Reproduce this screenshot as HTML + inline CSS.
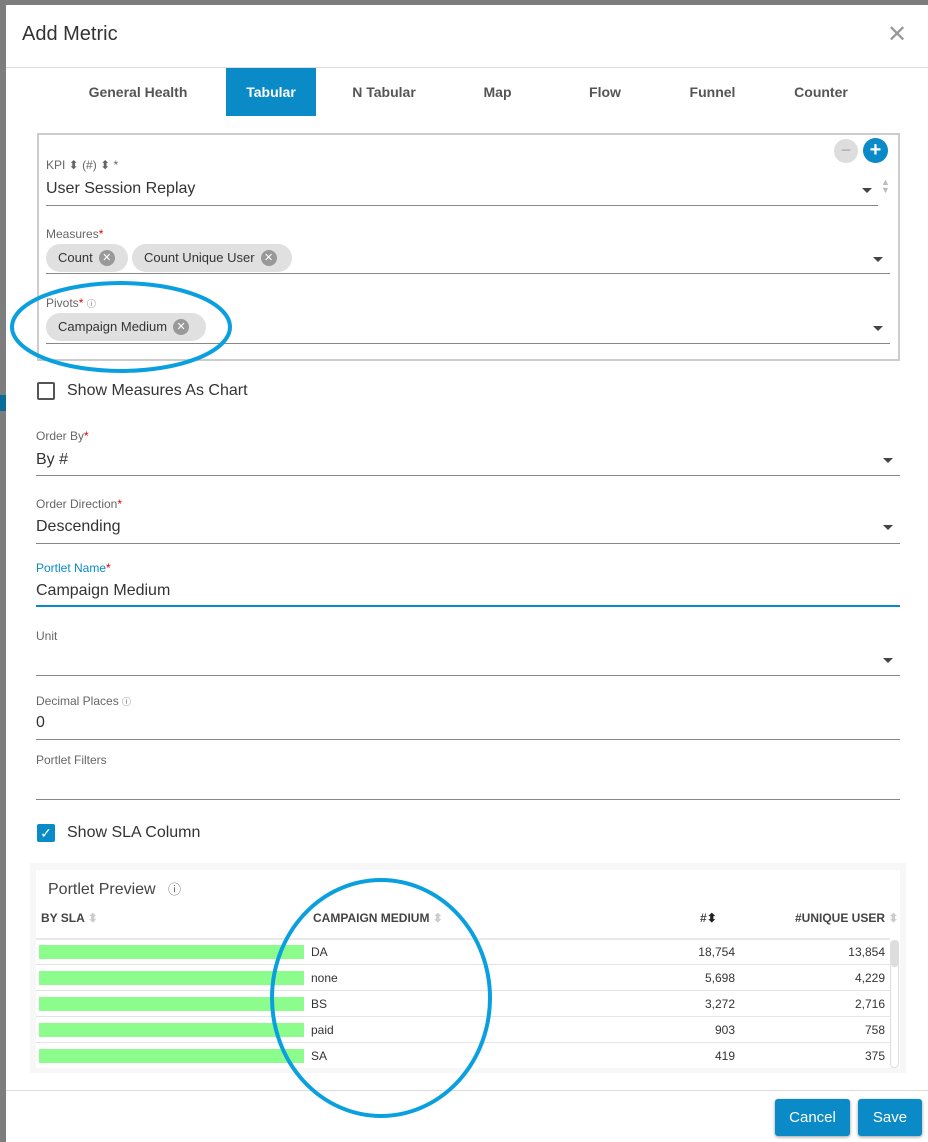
<!DOCTYPE html>
<html><head><style>
*{box-sizing:border-box;margin:0;padding:0}
body{width:928px;height:1142px;background:#7d7d7d;font-family:"Liberation Sans",sans-serif;position:relative;overflow:hidden;color:#333}
.a{position:absolute}
#m{left:6px;top:5px;width:922px;height:1137px;background:#fff}
.lbl{font-size:12px;color:#666}
.val{font-size:16px;color:#333}
.line{height:1px;background:#888}
.tab{font-size:14px;font-weight:bold;color:#555;text-align:center;top:84px}
.chip{background:#e0e0e0;border-radius:14px;height:28px;font-size:13px;color:#333;padding:6px 0 0 12px}
.x{display:inline-block;width:16px;height:16px;border-radius:50%;background:#999;color:#fff;font-size:11px;text-align:center;line-height:16px;margin-left:6px;vertical-align:top}
.caret{width:0;height:0;border-left:5px solid transparent;border-right:5px solid transparent;border-top:5px solid #444}
.row{left:36px;width:854px;height:1px;background:#e4e4e4}
.bar{left:39px;width:265px;height:14px;background:#8cfc8c}
.c{font-size:12px;color:#333}
.n{font-size:12px;color:#333;text-align:right}
.btn{background:#0a8ac6;color:#fff;font-size:15px;text-align:center;border-radius:3px;height:37px;line-height:37px;top:1099px;box-shadow:0 1px 3px rgba(0,0,0,.4)}
</style></head><body>
<div class="a" style="left:0;top:395px;width:6px;height:16px;background:#0a6c9a"></div>
<div class="a" id="m"></div>
<div class="a" style="left:22px;top:23px;font-size:20px;color:#333">Add Metric</div>
<div class="a" style="left:887px;top:20px;font-size:24px;color:#999">✕</div>
<div class="a" style="left:6px;top:67px;width:922px;height:1px;background:#ddd"></div>
<div class="a tab" style="left:78px;width:120px">General Health</div>
<div class="a" style="left:226px;top:68px;width:90px;height:48px;background:#0a8ac6"></div>
<div class="a tab" style="left:226px;width:90px;color:#fff">Tabular</div>
<div class="a tab" style="left:340px;width:88px">N Tabular</div>
<div class="a tab" style="left:470px;width:55px">Map</div>
<div class="a tab" style="left:580px;width:50px">Flow</div>
<div class="a tab" style="left:680px;width:65px">Funnel</div>
<div class="a tab" style="left:785px;width:72px">Counter</div>

<div class="a" style="left:37px;top:133px;width:863px;height:228px;border:2px solid #ccc"></div>
<div class="a" style="left:834px;top:139px;width:24px;height:24px;border-radius:50%;background:#ddd;color:#aaa;text-align:center;line-height:22px;font-size:18px">−</div>
<div class="a" style="left:863px;top:138px;width:25px;height:25px;border-radius:50%;background:#0a8ac6;color:#fff;text-align:center;line-height:24px;font-size:20px;font-weight:bold">+</div>
<div class="a lbl" style="left:46px;top:158px">KPI ⬍ (#) ⬍ *</div>
<div class="a val" style="left:46px;top:180px">User Session Replay</div>
<div class="a caret" style="left:862px;top:188px"></div>
<div class="a" style="left:881px;top:178px;font-size:9px;color:#bbb;line-height:8px">▲<br>▼</div>
<div class="a line" style="left:46px;top:205px;width:832px"></div>
<div class="a lbl" style="left:46px;top:227px">Measures<span style="color:#d00">*</span></div>
<div class="a chip" style="left:46px;top:244px;width:82px">Count<span class="x">✕</span></div>
<div class="a chip" style="left:132px;top:244px;width:160px">Count Unique User<span class="x">✕</span></div>
<div class="a caret" style="left:873px;top:257px"></div>
<div class="a line" style="left:46px;top:273px;width:844px"></div>
<div class="a lbl" style="left:46px;top:296px">Pivots<span style="color:#d00">*</span> <span style="font-size:9px">ⓘ</span></div>
<div class="a chip" style="left:46px;top:313px;width:160px">Campaign Medium<span class="x">✕</span></div>
<div class="a caret" style="left:873px;top:326px"></div>
<div class="a line" style="left:46px;top:343px;width:844px"></div>

<div class="a" style="left:37px;top:382px;width:18px;height:18px;border:2px solid #555;border-radius:2px"></div>
<div class="a val" style="left:67px;top:382px">Show Measures As Chart</div>

<div class="a lbl" style="left:36px;top:429px">Order By<span style="color:#d00">*</span></div>
<div class="a val" style="left:36px;top:451px">By #</div>
<div class="a caret" style="left:883px;top:458px"></div>
<div class="a line" style="left:36px;top:475px;width:864px"></div>
<div class="a lbl" style="left:36px;top:497px">Order Direction<span style="color:#d00">*</span></div>
<div class="a val" style="left:36px;top:518px">Descending</div>
<div class="a caret" style="left:883px;top:525px"></div>
<div class="a line" style="left:36px;top:543px;width:864px"></div>
<div class="a lbl" style="left:36px;top:561px;color:#0a8ac6">Portlet Name<span style="color:#d00">*</span></div>
<div class="a val" style="left:36px;top:582px">Campaign Medium</div>
<div class="a" style="left:36px;top:605px;width:864px;height:2px;background:#0a8ac6"></div>
<div class="a lbl" style="left:36px;top:629px">Unit</div>
<div class="a caret" style="left:883px;top:658px"></div>
<div class="a line" style="left:36px;top:675px;width:864px"></div>
<div class="a lbl" style="left:36px;top:694px">Decimal Places <span style="font-size:9px">ⓘ</span></div>
<div class="a val" style="left:36px;top:714px">0</div>
<div class="a line" style="left:36px;top:739px;width:864px"></div>
<div class="a lbl" style="left:36px;top:753px">Portlet Filters</div>
<div class="a line" style="left:36px;top:799px;width:864px"></div>

<div class="a" style="left:37px;top:824px;width:18px;height:18px;background:#0a8ac6;border-radius:2px;color:#fff;font-size:14px;text-align:center;line-height:18px">✓</div>
<div class="a val" style="left:67px;top:824px">Show SLA Column</div>

<div class="a" style="left:30px;top:863px;width:876px;height:210px;background:#f7f7f7"></div>
<div class="a" style="left:36px;top:870px;width:864px;height:198px;background:#fff"></div>
<div class="a" style="left:48px;top:879px;font-size:16px;color:#444">Portlet Preview <span style="font-size:13px;color:#666;margin-left:8px">ⓘ</span></div>
<div class="a" style="left:41px;top:911px;font-size:12px;font-weight:bold;color:#444">BY SLA <span style="color:#ccc">⬍</span></div>
<div class="a" style="left:313px;top:911px;font-size:12px;font-weight:bold;color:#444">CAMPAIGN MEDIUM <span style="color:#ccc">⬍</span></div>
<div class="a" style="left:700px;top:911px;font-size:12px;font-weight:bold;color:#444">#<span style="color:#222">⬍</span></div>
<div class="a" style="left:795px;top:911px;font-size:12px;font-weight:bold;color:#444">#UNIQUE USER <span style="color:#ccc">⬍</span></div>
<div class="a row" style="top:938px;height:2px;background:#e8e8e8"></div>
<div class="a row" style="top:964px"></div><div class="a row" style="top:990px"></div><div class="a row" style="top:1016px"></div><div class="a row" style="top:1042px"></div>
<div class="a" style="left:890px;top:940px;width:9px;height:128px;border:1px solid #ddd;border-radius:4px"></div>
<div class="a" style="left:891px;top:941px;width:7px;height:26px;background:#ddd;border-radius:3px"></div>

<div class="a bar" style="top:945px"></div><div class="a c" style="left:311px;top:945px">DA</div><div class="a n" style="left:640px;top:945px;width:95px">18,754</div><div class="a n" style="left:790px;top:945px;width:95px">13,854</div>
<div class="a bar" style="top:971px"></div><div class="a c" style="left:311px;top:971px">none</div><div class="a n" style="left:640px;top:971px;width:95px">5,698</div><div class="a n" style="left:790px;top:971px;width:95px">4,229</div>
<div class="a bar" style="top:997px"></div><div class="a c" style="left:311px;top:997px">BS</div><div class="a n" style="left:640px;top:997px;width:95px">3,272</div><div class="a n" style="left:790px;top:997px;width:95px">2,716</div>
<div class="a bar" style="top:1023px"></div><div class="a c" style="left:311px;top:1023px">paid</div><div class="a n" style="left:640px;top:1023px;width:95px">903</div><div class="a n" style="left:790px;top:1023px;width:95px">758</div>
<div class="a bar" style="top:1049px"></div><div class="a c" style="left:311px;top:1049px">SA</div><div class="a n" style="left:640px;top:1049px;width:95px">419</div><div class="a n" style="left:790px;top:1049px;width:95px">375</div>

<div class="a" style="left:6px;top:1090px;width:922px;height:1px;background:#ddd"></div>
<div class="a btn" style="left:775px;width:75px">Cancel</div>
<div class="a btn" style="left:858px;width:64px">Save</div>

<svg class="a" style="left:0;top:0" width="928" height="1142">
<ellipse cx="121" cy="327" rx="109" ry="44" fill="none" stroke="#0aa0e0" stroke-width="4"/>
<ellipse cx="381" cy="998" rx="109" ry="118" fill="none" stroke="#0aa0e0" stroke-width="4"/>
</svg>
</body></html>
